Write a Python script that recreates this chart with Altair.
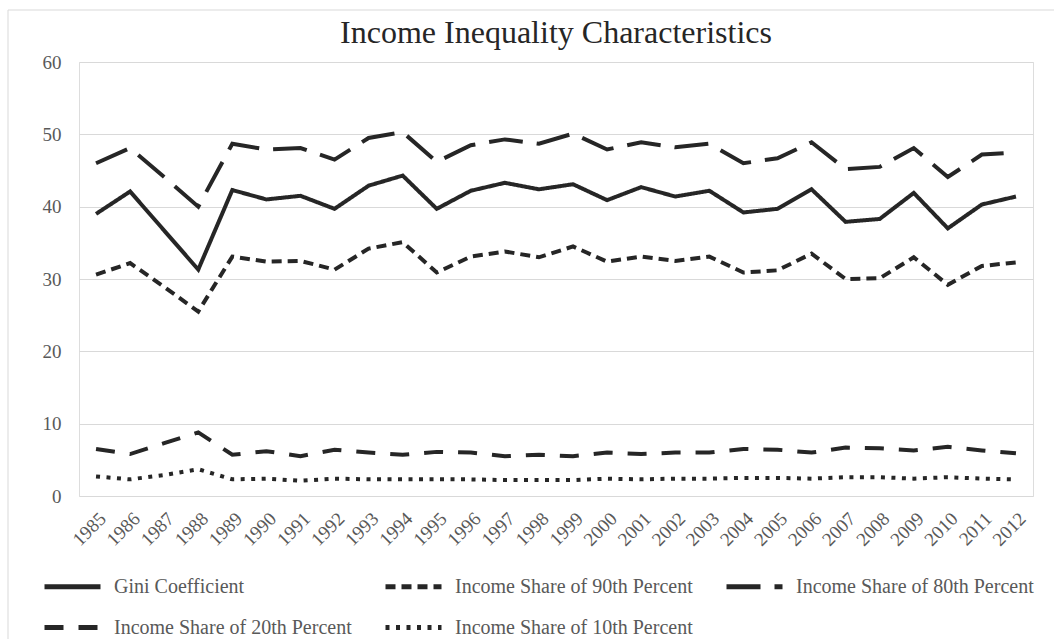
import altair as alt
import pandas as pd

years = ["1985", "1986", "1987", "1988", "1989", "1990", "1991", "1992", "1993", "1994",
         "1995", "1996", "1997", "1998", "1999", "2000", "2001", "2002", "2003", "2004",
         "2005", "2006", "2007", "2008", "2009", "2010", "2011", "2012"]

series_names = ["Gini Coefficient", "Income Share of 90th Percent", "Income Share of 80th Percent",
                "Income Share of 20th Percent", "Income Share of 10th Percent"]

gini = [39.0, 42.1, 36.7, 31.3, 42.3, 41.0, 41.5, 39.7, 42.9, 44.3,
        39.7, 42.2, 43.3, 42.4, 43.1, 40.9, 42.7, 41.4, 42.2, 39.2,
        39.7, 42.4, 37.9, 38.3, 41.9, 37.0, 40.3, 41.4]
share90 = [30.6, 32.2, 28.9, 25.5, 33.1, 32.4, 32.5, 31.3, 34.2, 35.1,
           30.9, 33.1, 33.8, 33.0, 34.5, 32.4, 33.1, 32.5, 33.1, 30.9,
           31.2, 33.5, 30.0, 30.1, 33.0, 29.2, 31.8, 32.3]
share80 = [46.0, 48.1, 44.1, 40.0, 48.7, 47.9, 48.1, 46.5, 49.5, 50.3,
           46.2, 48.5, 49.3, 48.7, 50.1, 47.9, 48.9, 48.2, 48.7, 46.0,
           46.7, 48.9, 45.2, 45.5, 48.1, 44.1, 47.2, 47.5]
share20 = [6.5, 5.8, 7.3, 8.8, 5.7, 6.2, 5.5, 6.4, 6.0, 5.7,
           6.1, 6.0, 5.5, 5.7, 5.5, 6.0, 5.8, 6.0, 6.0, 6.5,
           6.4, 6.0, 6.7, 6.6, 6.3, 6.8, 6.3, 5.9]
share10 = [2.7, 2.3, 2.9, 3.7, 2.3, 2.4, 2.1, 2.4, 2.3, 2.3,
           2.3, 2.3, 2.2, 2.2, 2.2, 2.4, 2.3, 2.4, 2.4, 2.5,
           2.5, 2.4, 2.6, 2.6, 2.4, 2.6, 2.4, 2.3]

y_ticks = [0, 10, 20, 30, 40, 50, 60]

all_values = [gini, share90, share80, share20, share10]
rows = []
for name, vals in zip(series_names, all_values):
    for yr, v in zip(years, vals):
        rows.append({"Year": yr, "Series": name, "Value": v})
df = pd.DataFrame(rows)

dash_range = [[1, 0], [10, 6], [34, 14], [19, 15], [4, 6.5]]
ink = "#262626"
serif = "Liberation Serif"

lines = alt.Chart(df).mark_line(color=ink, strokeWidth=4, strokeJoin="miter").encode(
    x=alt.X("Year:O", sort=years, title=None,
            axis=alt.Axis(labelAngle=-45, labelFont=serif, labelFontSize=19,
                          labelColor="#595959", ticks=False, domain=False,
                          grid=False, labelPadding=13)),
    y=alt.Y("Value:Q", title=None, scale=alt.Scale(domain=[0, 60], nice=False),
            axis=alt.Axis(values=y_ticks, labelFont=serif, labelFontSize=19,
                          labelColor="#595959", ticks=False, domain=False,
                          grid=True, gridColor="#d9d9d9", gridWidth=1,
                          labelPadding=18)),
    strokeDash=alt.StrokeDash("Series:N", sort=series_names,
                              scale=alt.Scale(domain=series_names, range=dash_range),
                              legend=alt.Legend(title=None, orient="none", legendX=-37, legendY=494,
                                                direction="horizontal",
                                                columns=3, symbolType="stroke", symbolSize=3136,
                                                symbolStrokeWidth=5, symbolStrokeColor=ink,
                                                labelFont=serif, labelFontSize=20,
                                                labelColor="#595959", labelOffset=11,
                                                labelLimit=400, columnPadding=23,
                                                rowPadding=-19, padding=0)),
    detail="Series:N",
)

border = alt.Chart(pd.DataFrame({"k": [0]})).mark_rect(
    fillOpacity=0, stroke="#d9d9d9", strokeWidth=1, clip=False
).encode(x=alt.value(-71), x2=alt.value(1010), y=alt.value(-52), y2=alt.value(620))

chart = alt.layer(border, lines).properties(
    width=954, height=434,
    title=alt.TitleParams("Income Inequality Characteristics", font=serif, fontSize=32,
                          fontWeight="normal", color=ink, anchor="middle", frame="group",
                          baseline="alphabetic", offset=-65),
    autosize=alt.AutoSizeParams(type="none"),
    padding={"left": 79, "top": 62, "right": 21, "bottom": 143},
).configure_view(stroke=None).configure(background="white").configure_legend(
    labelFont=serif, labelFontSize=20, labelColor="#595959"
)

chart.save("out.html", embed_options={"renderer": "svg", "actions": False})
